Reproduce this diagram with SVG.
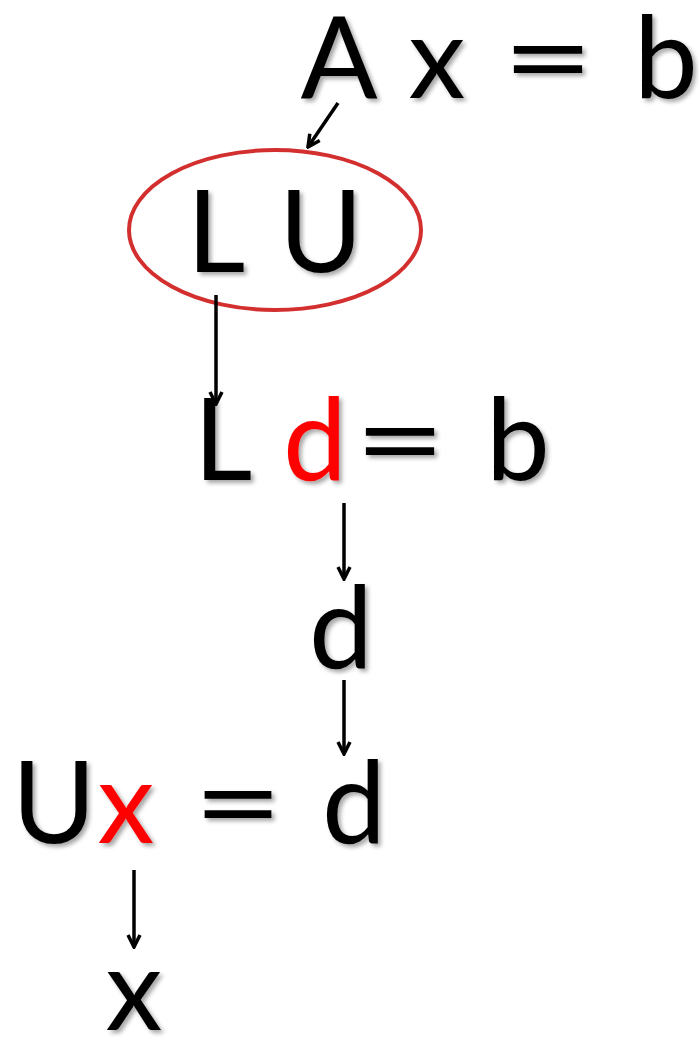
<svg xmlns="http://www.w3.org/2000/svg" width="699" height="1039" viewBox="0 0 699 1039">
<style>
.t{font-family:Lato,"Open Sans","DejaVu Sans",sans-serif;font-size:114px;font-weight:400;fill:#000;text-anchor:middle;filter:url(#sh)}
.r{fill:#ff0000}
.c{stroke:#000;stroke-width:3.5;fill:none;marker-end:url(#ah)}
</style>
<defs>
<filter id="sh" x="-20%" y="-20%" width="150%" height="150%">
<feDropShadow dx="3" dy="3" stdDeviation="2" flood-color="#000" flood-opacity="0.35"/>
</filter>
<marker id="ah" viewBox="0 0 16 16" refX="14" refY="8" markerWidth="16" markerHeight="16" orient="auto" markerUnits="userSpaceOnUse">
<path d="M2,2 L14,8 L2,14" fill="none" stroke="#000" stroke-width="3.5"/>
</marker>
</defs>
<rect width="699" height="1039" fill="#fff"/>
<g id="eq1">
<text class="t" x="339" y="98">A</text>
<text class="t" x="437" y="98">x</text>
<text class="t" x="548" y="98" textLength="92" lengthAdjust="spacingAndGlyphs">=</text>
<text class="t" x="666" y="98">b</text>
</g>
<g id="lu">
<ellipse cx="275" cy="230" rx="146" ry="80" fill="none" stroke="#d32f2f" stroke-width="4"/>
<text class="t" x="216" y="272">L</text>
<text class="t" x="321" y="272">U</text>
</g>
<g id="eq2">
<text class="t" x="223" y="480">L</text>
<text class="t r" x="315" y="480">d</text>
<text class="t" x="400" y="480" textLength="92" lengthAdjust="spacingAndGlyphs">=</text>
<text class="t" x="518" y="480">b</text>
</g>
<g id="d">
<text class="t" x="341" y="668">d</text>
</g>
<g id="eq3">
<text class="t" x="54" y="843">U</text>
<text class="t r" x="126" y="843">x</text>
<text class="t" x="238" y="843" textLength="90" lengthAdjust="spacingAndGlyphs">=</text>
<text class="t" x="354" y="843">d</text>
</g>
<g id="x">
<text class="t" x="134" y="1030">x</text>
</g>
<g id="connectors">
<line class="c" x1="338" y1="103" x2="308" y2="147"/>
<line class="c" x1="216" y1="295" x2="216" y2="404"/>
<line class="c" x1="344" y1="503" x2="344" y2="579"/>
<line class="c" x1="344" y1="680" x2="344" y2="754"/>
<line class="c" x1="134" y1="870" x2="134" y2="947"/>
</g>
</svg>
